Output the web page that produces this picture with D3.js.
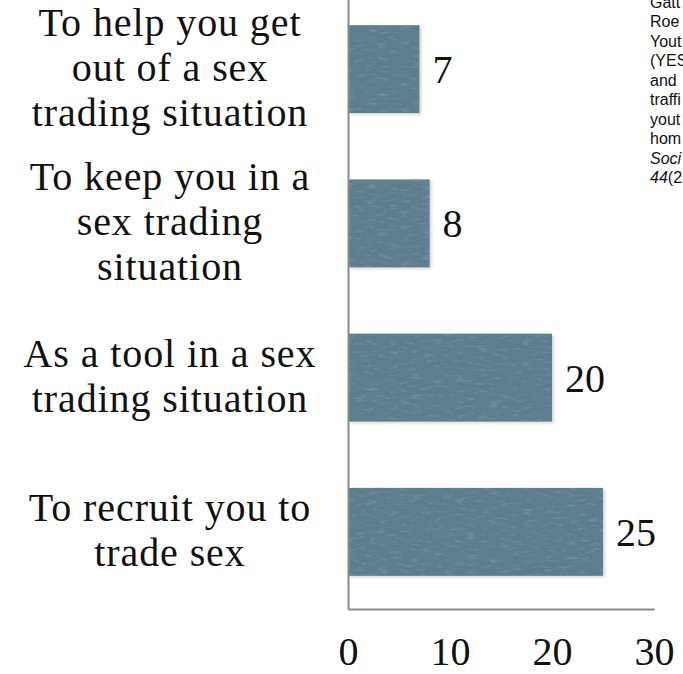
<!DOCTYPE html>
<html lang="en">
<head>
<meta charset="UTF-8">
<title>Sex trading reasons</title>
<script src="https://d3js.org/d3.v7.min.js"></script>
<style>
  body { margin: 0; background: #fff; }
  svg { display: block; }
  .cat, .val, .tick text { font-family: "Liberation Serif", "Times New Roman", serif; fill: #111; }
  .cite { font-family: "Liberation Sans", Arial, sans-serif; font-size: 16px; fill: #111; }
</style>
</head>
<body>
<script>
const width = 683, height = 674;

const categories = [
  ["To help you get", "out of a sex", "trading situation"],
  ["To keep you in a", "sex trading", "situation"],
  ["As a tool in a sex", "trading situation"],
  ["To recruit you to", "trade sex"]
];
const values = [7, 8, 20, 25];
const xTicks = [0, 10, 20, 30];
const citeLines = ["Gatt", "Roe", "Yout", "(YES", "and", "traffi", "yout", "hom", "Soci", "44(2"];

const svg = d3.select("body").append("svg")
  .attr("width", width)
  .attr("height", height);

// bar texture: fine dark specks and streaks
const defs = svg.append("defs");
const f = defs.append("filter").attr("id", "tex")
  .attr("x", 0).attr("y", 0).attr("width", 1).attr("height", 1);
f.append("feTurbulence").attr("type", "fractalNoise")
  .attr("baseFrequency", "0.09 0.35").attr("numOctaves", 3).attr("seed", 7).attr("result", "n");
f.append("feColorMatrix").attr("in", "n").attr("type", "matrix")
  .attr("values", "0 0 0 0 0.2  0 0 0 0 0.29  0 0 0 0 0.35  2.4 0 0 0 -1.25")
  .attr("result", "dark");
f.append("feComposite").attr("in", "dark").attr("in2", "SourceGraphic").attr("operator", "in").attr("result", "d2");
const m = f.append("feMerge");
m.append("feMergeNode").attr("in", "SourceGraphic");
m.append("feMergeNode").attr("in", "d2");

const shadow = defs.append("filter").attr("id", "shadow")
  .attr("x", -0.1).attr("y", -0.1).attr("width", 1.2).attr("height", 1.2);
shadow.append("feGaussianBlur").attr("stdDeviation", 1.5);

const x = d3.scaleLinear().domain([0, 30]).range([348, 654]);
const y = d3.scaleBand().domain(d3.range(values.length)).range([-8, 609])
  .paddingInner(0.43).paddingOuter(0.215);

// bars
const bars = svg.append("g");
bars.selectAll(".sh").data(values).join("rect")
  .attr("x", x(0) + 2).attr("y", (d, i) => y(i) + 1.5)
  .attr("width", d => x(d) - x(0)).attr("height", y.bandwidth())
  .attr("fill", "#000").attr("opacity", 0.16).attr("filter", "url(#shadow)");
bars.selectAll(".bar").data(values).join("rect")
  .attr("x", x(0)).attr("y", (d, i) => y(i))
  .attr("width", d => x(d) - x(0)).attr("height", y.bandwidth())
  .attr("fill", "#5c7e8e").attr("filter", "url(#tex)");

// value labels
svg.append("g").selectAll("text").data(values).join("text")
  .attr("class", "val")
  .attr("x", d => x(d) + 13)
  .attr("y", (d, i) => y(i) + y.bandwidth() / 2 + 14)
  .attr("font-size", 40)
  .text(d => d);

// axes
const xAxis = svg.append("g").attr("transform", "translate(0,609)")
  .call(d3.axisBottom(x).tickValues(xTicks).tickSize(0).tickPadding(0));
xAxis.select(".domain").attr("stroke", "#8a8a8a").attr("stroke-width", 2);
xAxis.selectAll(".tick text").attr("y", 56).attr("dy", 0).attr("font-size", 40);

const yAxis = svg.append("g").attr("transform", "translate(348,0)")
  .call(d3.axisLeft(y).tickSize(0).tickFormat(""));
yAxis.select(".domain").attr("stroke", "#8a8a8a").attr("stroke-width", 2);

// category labels
const lineH = 45;
svg.append("g").selectAll("text").data(categories).join("text")
  .attr("class", "cat")
  .attr("font-size", 40)
  .attr("letter-spacing", 0.9)
  .attr("text-anchor", "middle")
  .each(function(lines, i) {
    const cy = y(i) + y.bandwidth() / 2 + 12;
    const top = cy - (lines.length - 1) * lineH / 2;
    d3.select(this).selectAll("tspan").data(lines).join("tspan")
      .attr("x", 170)
      .attr("y", (l, j) => top + j * lineH)
      .text(l => l);
  });

// citation fragment (cut off at right edge)
const cite = svg.append("g").selectAll("text").data(citeLines).join("text")
  .attr("class", "cite")
  .attr("x", 650)
  .attr("y", (d, i) => 7.5 + i * 19.5);
cite.each(function(d) {
  const t = d3.select(this);
  if (d === "Soci") {
    t.append("tspan").attr("font-style", "italic").text(d);
  } else if (d === "44(2") {
    t.append("tspan").attr("font-style", "italic").text("44");
    t.append("tspan").text("(2");
  } else {
    t.text(d);
  }
});
</script>
</body>
</html>
